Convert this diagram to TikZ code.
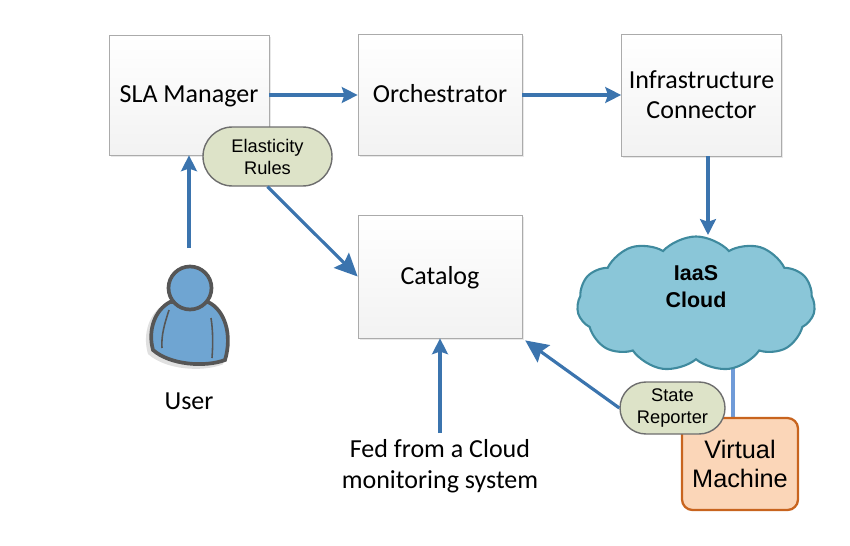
\documentclass[tikz,border=0pt]{standalone}
\usepackage{fontspec}
\setmainfont{Carlito}
\newfontfamily\arialfont{Liberation Sans}
\usetikzlibrary{arrows.meta, shapes.symbols, shapes.misc, shadows}
\definecolor{flowblue}{HTML}{3B74AE}
\definecolor{linkblue}{HTML}{6F9BD8}
\definecolor{boxedge}{HTML}{ABABAB}
\definecolor{pillfill}{HTML}{DDE3C8}
\definecolor{pilledge}{HTML}{6E6E6E}
\definecolor{cloudfill}{HTML}{8AC6D8}
\definecolor{cloudedge}{HTML}{3F8A9E}
\definecolor{vmfill}{HTML}{FBD6B8}
\definecolor{vmedge}{HTML}{C8641E}
\definecolor{userfill}{HTML}{6FA5D2}
\definecolor{useredge}{HTML}{565656}

\tikzset{
  block/.style={draw=boxedge, top color=white, bottom color=black!5, align=center,
    font=\fontsize{14.8}{17.6}\selectfont, drop shadow={shadow xshift=1pt, shadow yshift=-1pt, fill=black!18}},
  oneline/.style={text height=11pt, text depth=2pt},
  pill/.style={draw=pilledge, line width=0.8pt, fill=pillfill, rounded rectangle, align=center, inner sep=0pt,
    font=\arialfont\fontsize{10.4}{12.5}\selectfont},
  flow/.style={->, draw=flowblue, line width=1.8pt, >={Stealth[length=9pt, width=9pt, inset=1.5pt]}},
  bigflow/.style={flow, >={Stealth[length=13pt, width=12pt, inset=2pt]}},
  plaintext/.style={font=\fontsize{14.8}{17.6}\selectfont, align=center}
}

\begin{document}
\begin{tikzpicture}

  \useasboundingbox (0,0) rectangle (17,10.9);

  % Connector ends that have no node
  \coordinate (usertop) at (3.78,5.94);
  \coordinate (cloudtop) at (14.16,6.2);
  \coordinate (cloudfoot) at (14.66,3.66);
  \coordinate (vmtop) at (14.66,2.54);

  % Blocks
  \node[block, oneline, minimum width=3.2cm, minimum height=2.4cm] (sla) at (3.78,9) {SLA Manager};
  \node[block, oneline, minimum width=3.28cm, minimum height=2.42cm] (orch) at (8.8,9) {Orchestrator};
  \node[block, minimum width=3.2cm, minimum height=2.44cm] (infra) at (14.03,9) {Infrastructure\\[-0.5pt]Connector};
  \node[block, oneline, minimum width=3.28cm, minimum height=2.46cm] (catalog) at (8.8,5.37) {Catalog};

  % Link from the cloud to the machine
  \draw[linkblue, line width=1.8pt] (cloudfoot) -- (vmtop);

  % Cloud and machine
  \node[cloud, cloud puffs=11, cloud puff arc=95, aspect=1.8, draw=cloudedge, line width=1.2pt, fill=cloudfill,
    minimum width=4.76cm, minimum height=2.7cm, inner sep=0pt, align=center,
    font=\arialfont\bfseries\fontsize{12.2}{15.4}\selectfont] (iaas) at (13.92,4.82) {IaaS\\Cloud\\[5pt]\mbox{}};
  \node[draw=vmedge, fill=vmfill, line width=1.3pt, rounded corners=6pt, align=center, inner sep=0pt,
    minimum width=2.32cm, minimum height=1.84cm,
    font=\arialfont\fontsize{14.4}{17}\selectfont] (vm) at (14.8,1.62) {Virtual\\Machine};

  % Pills
  \node[pill, minimum width=2.58cm, minimum height=1.18cm] (rules) at (5.35,7.77) {Elasticity\\Rules};
  \node[pill, minimum width=2.1cm, minimum height=1.04cm] (state) at (13.45,2.74) {State\\Reporter};

  % User
  \draw[black!12, line width=2pt, fill=black!12, xshift=-0.07cm, yshift=-0.06cm]
    (3.4,4.86) .. controls (3.1,4.7) and (2.95,4.3) .. (3.06,3.9)
    .. controls (3.4,3.6) and (4.1,3.55) .. (4.5,3.7)
    .. controls (4.65,4.2) and (4.5,4.7) .. (4.16,4.86) -- cycle;
  \draw[useredge, line width=2.1pt, fill=userfill]
    (3.4,4.86) .. controls (3.1,4.7) and (2.95,4.3) .. (3.06,3.9)
    .. controls (3.4,3.6) and (4.1,3.55) .. (4.5,3.7)
    .. controls (4.65,4.2) and (4.5,4.7) .. (4.16,4.86) -- cycle;
  \draw[useredge, line width=0.9pt] (3.38,4.7) .. controls (3.3,4.45) and (3.22,4.2) .. (3.24,3.94);
  \draw[useredge, line width=0.9pt] (4.22,4.54) .. controls (4.26,4.3) and (4.26,4) .. (4.24,3.74);
  \node[circle, draw=useredge, line width=2.1pt, fill=userfill, minimum size=0.86cm, inner sep=0pt] (head) at (3.8,5.14) {};

  % Text labels
  \node[plaintext] (user) at (3.78,2.88) {User};
  \node[plaintext] (fed) at (8.8,1.58) {Fed from a Cloud\\monitoring system};

  % Main flow
  \draw[flow] (sla) -- (orch);
  \draw[flow] (orch) -- (infra);
  \draw[flow] (infra.south -| cloudtop) -- (cloudtop);
  \draw[flow] (usertop) -- (sla.south);
  \draw[flow] (fed.north) -- (catalog.south);

  % Rule and reporter links
  \draw[bigflow] (rules.south) -- (catalog.west);
  \draw[bigflow, shorten >=2pt] (state.west) -- (catalog.south east);

\end{tikzpicture}
\end{document}
